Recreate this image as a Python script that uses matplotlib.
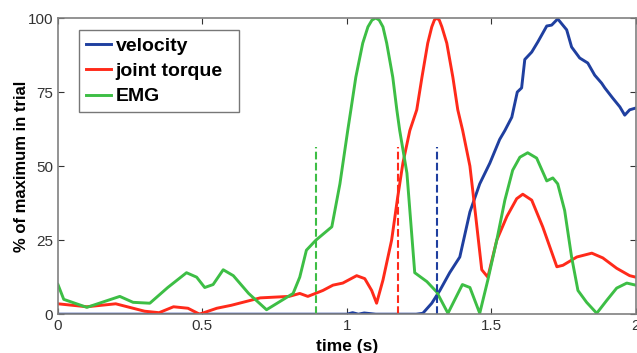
import numpy as np
import matplotlib as mpl
mpl.use('Agg')
import matplotlib.pyplot as plt

mpl.rc('font', family='Liberation Sans')

# velocity (normalised)
t_vel = [0.0, 0.5, 1.0, 1.02, 1.04, 1.06, 1.1, 1.24, 1.263, 1.294, 1.322, 1.356, 1.391, 1.426,
         1.46, 1.495, 1.529, 1.547, 1.571, 1.59, 1.605, 1.616, 1.64, 1.661, 1.692, 1.709,
         1.73, 1.761, 1.778, 1.806, 1.834, 1.858, 1.882, 1.893, 1.92, 1.945, 1.962, 1.979, 2.0]
velocity = [0, 0, 0, 0.5, 0, 0.4, 0, 0, 0.3, 3.7, 8, 14, 19.3, 34.5,
            44, 51, 59, 62, 66.5, 75, 76.4, 86, 88.5, 91.9, 97.3, 97.6,
            99.7, 96, 90.2, 86.5, 84.8, 80.7, 78, 76.4, 73, 70, 67.2, 69, 69.6]

# joint torque
t_torque = [0.0, 0.05, 0.1, 0.2, 0.3, 0.35, 0.4, 0.45, 0.49, 0.55, 0.6, 0.7, 0.8, 0.837, 0.865,
            0.917, 0.952, 0.986, 1.034, 1.062, 1.086, 1.103, 1.125, 1.155, 1.176, 1.194,
            1.218, 1.242, 1.26, 1.28, 1.294, 1.303, 1.311, 1.32, 1.329, 1.346, 1.367, 1.384,
            1.401, 1.426, 1.445, 1.467, 1.488, 1.519, 1.554, 1.588, 1.609, 1.64, 1.678,
            1.727, 1.748, 1.796, 1.848, 1.886, 1.934, 1.979, 2.0]
torque = [3.5, 3, 2.5, 3.5, 1, 0.5, 2.5, 2, 0, 2, 3, 5.5, 6, 7, 6,
          8, 9.8, 10.5, 13, 12, 8, 3.7, 11.5, 25, 39.5, 51,
          62, 69, 80, 91.5, 97, 99.3, 100, 99.3, 97, 91.5, 80, 69,
          62, 50, 34, 15, 12.5, 25, 33, 39, 40.5, 38.5, 29.5,
          16, 16.5, 19.3, 20.6, 19, 15.5, 13, 12.5]

# EMG
t_emg = [0.0, 0.02, 0.1, 0.214, 0.26, 0.318, 0.38, 0.445, 0.48, 0.508, 0.537, 0.572, 0.607,
         0.66, 0.722, 0.814, 0.837, 0.86, 0.893, 0.948, 0.976, 1.003, 1.014, 1.031, 1.055,
         1.073, 1.087, 1.1, 1.112, 1.125, 1.138, 1.159, 1.173, 1.183, 1.208, 1.235, 1.277,
         1.311, 1.35, 1.40, 1.426, 1.46, 1.488, 1.519, 1.547, 1.574, 1.599, 1.626, 1.657,
         1.692, 1.713, 1.73, 1.754, 1.778, 1.8, 1.83, 1.865, 1.9, 1.934, 1.969, 2.0]
emg = [10, 5, 2.3, 6, 4, 3.7, 9, 14, 12.5, 9, 10, 15, 13,
       7, 1.5, 7, 12.5, 21.6, 25, 29.5, 44, 62, 69, 80, 91.5,
       97, 99.3, 100, 99.3, 97, 91.5, 80, 69, 62, 47.6, 14, 11,
       7.5, 0.3, 10, 9, 0.3, 11.5, 25, 38.5, 48.6, 53, 54.5, 52.7,
       45, 46, 44, 35, 19.3, 8, 4, 0.3, 4.7, 8.8, 10.5, 9.8]

# onset markers (dashed)
onset_emg = 0.893
onset_torque = 1.176
onset_vel = 1.311
onset_height = 56.5

c_vel = '#1F3F9F'
c_torque = '#FF2A1A'
c_emg = '#3DBE45'

fig = plt.figure(figsize=(6.37, 3.53), dpi=100)
ax = fig.add_axes([0.091, 0.110, 0.907, 0.839])

l_vel, = ax.plot(t_vel, velocity, color=c_vel, lw=2.1, solid_joinstyle='round')
l_tor, = ax.plot(t_torque, torque, color=c_torque, lw=2.1, solid_joinstyle='round')
l_emg, = ax.plot(t_emg, emg, color=c_emg, lw=2.1, solid_joinstyle='round')

ax.plot([onset_emg, onset_emg], [0, onset_height], color=c_emg, lw=1.5, ls='--')
ax.plot([onset_torque, onset_torque], [0, onset_height], color=c_torque, lw=1.5, ls='--')
ax.plot([onset_vel, onset_vel], [0, onset_height], color=c_vel, lw=1.5, ls='--')

ax.set_xlim(0, 2)
ax.set_ylim(0, 100)
ax.set_xticks([0, 0.5, 1, 1.5, 2])
ax.set_xticklabels(['0', '0.5', '1', '1.5', '2'])
ax.set_yticks([0, 25, 50, 75, 100])
ax.tick_params(direction='in', top=True, right=True, labelsize=11, colors='#333333', length=4)
for sp in ax.spines.values():
    sp.set_color('#808080')
    sp.set_linewidth(1.2)

ax.set_xlabel('time (s)', fontsize=12.5, fontweight='bold', labelpad=4)
ax.set_ylabel('% of maximum in trial', fontsize=12, fontweight='bold', labelpad=-1)

leg = ax.legend([l_vel, l_tor, l_emg], ['velocity', 'joint torque', 'EMG'],
                loc='upper left', bbox_to_anchor=(0.036, 0.693, 0.277, 0.266), mode='expand',
                fancybox=False, prop={'weight': 'bold', 'size': 14}, handlelength=1.3,
                handletextpad=0.25, labelspacing=0.4, borderpad=0.35, borderaxespad=0)
leg.get_frame().set_edgecolor('#555555')
leg.get_frame().set_linewidth(1.0)

plt.savefig('out.png', dpi=100)
